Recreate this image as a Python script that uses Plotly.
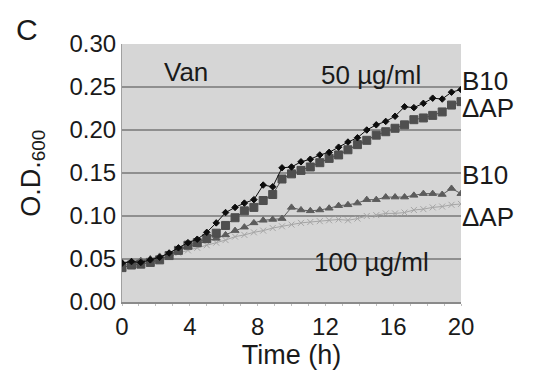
import plotly.graph_objects as go

# Sampling times (h), one reading every 1/1.8 h
time_h = [0.00, 0.56, 1.11, 1.67, 2.22, 2.78, 3.33, 3.89, 4.44, 5.00,
          5.56, 6.11, 6.67, 7.22, 7.78, 8.33, 8.89, 9.44, 10.00, 10.56,
          11.11, 11.67, 12.22, 12.78, 13.33, 13.89, 14.44, 15.00, 15.56, 16.11,
          16.67, 17.22, 17.78, 18.33, 18.89, 19.44, 20.00]

# O.D.600 readings, vancomycin 50 ug/ml
b10_50 = [0.045, 0.047, 0.046, 0.049, 0.052, 0.057, 0.063, 0.069, 0.073, 0.081,
          0.092, 0.104, 0.110, 0.115, 0.119, 0.136, 0.134, 0.156, 0.157, 0.163,
          0.166, 0.171, 0.174, 0.180, 0.186, 0.191, 0.200, 0.206, 0.210, 0.216,
          0.227, 0.226, 0.231, 0.237, 0.236, 0.244, 0.247]
dap_50 = [0.040, 0.043, 0.044, 0.046, 0.049, 0.054, 0.060, 0.066, 0.069, 0.074,
          0.080, 0.089, 0.098, 0.106, 0.110, 0.118, 0.125, 0.143, 0.149, 0.153,
          0.157, 0.162, 0.167, 0.171, 0.177, 0.183, 0.188, 0.194, 0.198, 0.202,
          0.206, 0.212, 0.214, 0.217, 0.221, 0.229, 0.233]

# O.D.600 readings, vancomycin 100 ug/ml
b10_100 = [0.046, 0.047, 0.048, 0.050, 0.053, 0.056, 0.060, 0.064, 0.067, 0.071,
           0.074, 0.078, 0.083, 0.087, 0.092, 0.095, 0.096, 0.097, 0.110, 0.107,
           0.106, 0.107, 0.109, 0.112, 0.113, 0.115, 0.119, 0.119, 0.122, 0.122,
           0.122, 0.124, 0.126, 0.126, 0.125, 0.132, 0.126]
dap_100 = [0.043, 0.045, 0.046, 0.048, 0.050, 0.053, 0.057, 0.060, 0.063, 0.066,
           0.069, 0.072, 0.076, 0.078, 0.081, 0.083, 0.086, 0.088, 0.090, 0.092,
           0.093, 0.094, 0.095, 0.096, 0.095, 0.097, 0.100, 0.101, 0.103, 0.103,
           0.104, 0.107, 0.108, 0.110, 0.111, 0.113, 0.114]

x_ticks = [0, 4, 8, 12, 16, 20]
y_ticks = [0.00, 0.05, 0.10, 0.15, 0.20, 0.25, 0.30]

FONT = "Liberation Sans, Arial, sans-serif"

fig = go.Figure()

series = [
    (dap_100, "#a5a5a5", "x-thin", 6),
    (b10_100, "#5c5c5c", "triangle-up", 7),
    (dap_50, "#4f4f4f", "square", 8),
    (b10_50, "#0d0d0d", "diamond", 5),
]
for vals, color, symbol, size in series:
    fig.add_trace(go.Scatter(
        x=time_h, y=vals, mode="lines+markers",
        line=dict(color=color, width=1),
        marker=dict(symbol=symbol, size=size, color=color,
                    line=dict(color=color, width=1)),
        showlegend=False,
    ))

fig.update_layout(
    width=536, height=380,
    margin=dict(l=122, r=75, t=44, b=78),
    paper_bgcolor="white",
    plot_bgcolor="#d6d6d6",
    font=dict(family=FONT, size=24, color="#1a1a1a"),
    showlegend=False,
)

fig.update_xaxes(
    range=[0, 20], tickvals=x_ticks, ticktext=[str(v) for v in x_ticks],
    showgrid=False, zeroline=False,
    showline=True, linecolor="#8a8a8a", linewidth=2,
    ticks="outside", ticklen=2, tickcolor="#c0c0c0",
    minor=dict(dtick=1, ticks="outside", ticklen=2, tickcolor="#c0c0c0"),
    tickfont=dict(size=24),
    title=dict(text="Time (h)", font=dict(size=27), standoff=4),
)
fig.update_yaxes(
    range=[0, 0.30], tickvals=y_ticks, ticktext=[f"{v:.2f}" for v in y_ticks],
    showgrid=True, gridcolor="#8f8f8f", gridwidth=1.5,
    zeroline=False,
    showline=True, linecolor="#a0a0a0", linewidth=1,
    ticks="", tickfont=dict(size=24),
)

# Panel letter and axis label
fig.add_annotation(text="C", xref="paper", yref="paper", x=-0.318, y=1.058,
                   xanchor="left", yanchor="middle", showarrow=False,
                   font=dict(size=30))
fig.add_annotation(text="O.D.<sub>600</sub>", xref="paper", yref="paper",
                   x=-0.263, y=0.50, textangle=-90, showarrow=False,
                   xanchor="center", yanchor="middle", font=dict(size=27))

# Labels inside the plot
fig.add_annotation(text="Van", x=3.8, y=0.267, showarrow=False, font=dict(size=26))
fig.add_annotation(text="50 µg/ml", x=14.7, y=0.264, showarrow=False, font=dict(size=26))
fig.add_annotation(text="100 µg/ml", x=14.7, y=0.047, showarrow=False, font=dict(size=26))

# Strain labels at the right edge
for label, yv in [("B10", 0.257), ("ΔAP", 0.226), ("B10", 0.148), ("ΔAP", 0.099)]:
    fig.add_annotation(text=label, xref="paper", x=1.0, y=yv, xanchor="left",
                       xshift=-1, showarrow=False, font=dict(size=26))

fig.write_html("out.html")
